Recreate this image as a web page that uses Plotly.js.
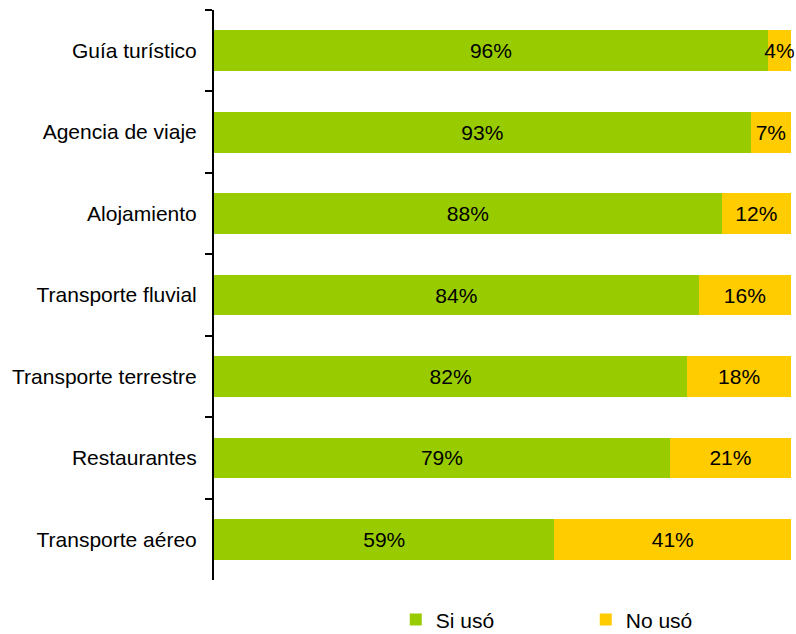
<!DOCTYPE html>
<html>
<head>
<meta charset="utf-8">
<script src="https://cdn.plot.ly/plotly-3.0.1.min.js"></script>
<style>html,body{margin:0;padding:0;background:#fff;}#chart{width:796px;height:634px;}</style>
</head>
<body>
<div id="chart"></div>
<script>
const categories = ["Guía turístico","Agencia de viaje","Alojamiento","Transporte fluvial","Transporte terrestre","Restaurantes","Transporte aéreo"];
const siUso = [96,93,88,84,82,79,59];
const noUso = [4,7,12,16,18,21,41];
const seriesNames = ["Si usó","No usó"];
const colors = ["#99CC00","#FFCC00"];
const FONT = "Liberation Sans, Arial, sans-serif";

function trace(vals, name, color){
  return {
    type:"bar", orientation:"h", y:categories, x:vals, name:name,
    marker:{color:color},
    text: vals.map(v=>v+"%"), textposition:"inside", insidetextanchor:"middle",
    textangle:0, constraintext:"none",
    textfont:{family:FONT,size:21,color:"#000"},
    hoverinfo:"none", cliponaxis:false
  };
}
const data = [trace(siUso, seriesNames[0], colors[0]), trace(noUso, seriesNames[1], colors[1])];
const layout = {
  width:796, height:634,
  margin:{l:214,r:5,t:10,b:54,autoexpand:false},
  barmode:"stack", bargap:0.5,
  paper_bgcolor:"#fff", plot_bgcolor:"#fff",
  font:{family:FONT,size:21,color:"#000"},
  xaxis:{range:[0,100],visible:false,fixedrange:true},
  yaxis:{type:"category",autorange:"reversed",showline:true,linecolor:"#000",linewidth:2,
    ticks:"outside",tickson:"boundaries",ticklen:7,tickwidth:2,tickcolor:"#000",
    showgrid:false,zeroline:false,ticklabelstandoff:11,tickfont:{family:FONT,size:21,color:"#000"}},
  showlegend:true,
  legend:{orientation:"h",x:0.315,xanchor:"left",y:-0.034,yanchor:"top",
    traceorder:"normal",entrywidth:145,entrywidthmode:"pixels",
    font:{family:FONT,size:21,color:"#000"},itemclick:false,itemdoubleclick:false}
};
Plotly.newPlot("chart", data, layout, {displayModeBar:false,staticPlot:true});
</script>
</body>
</html>
